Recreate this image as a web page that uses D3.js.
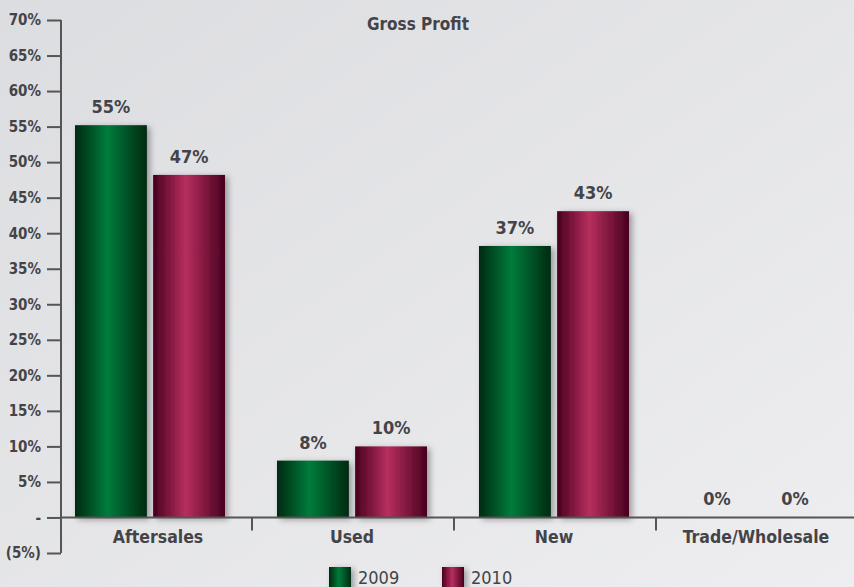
<!DOCTYPE html>
<html>
<head>
<meta charset="utf-8">
<script src="https://cdn.jsdelivr.net/npm/d3@7/dist/d3.min.js"></script>
<style>
  body { margin: 0; padding: 0; }
  svg { display: block; }
  text { font-family: "Liberation Sans Narrow", "DejaVu Sans Condensed", "Arial Narrow", sans-serif; fill: #444448; }
</style>
</head>
<body>
<div id="chart"></div>
<script>
var categories = ["Aftersales", "Used", "New", "Trade/Wholesale"];
var seriesNames = ["2009", "2010"];
var values2009 = [55.2, 8.0, 38.2, 0];
var values2010 = [48.2, 10.0, 43.1, 0];
var labels2009 = ["55%", "8%", "37%", "0%"];
var labels2010 = ["47%", "10%", "43%", "0%"];
var yTicks = [-5, 0, 5, 10, 15, 20, 25, 30, 35, 40, 45, 50, 55, 60, 65, 70];
var title = "Gross Profit";

var width = 854, height = 587;

var svg = d3.select("#chart").append("svg")
    .attr("width", width)
    .attr("height", height);

var defs = svg.append("defs");

// background
var bg = defs.append("linearGradient").attr("id", "bg")
    .attr("x1", "0%").attr("y1", "0%").attr("x2", "100%").attr("y2", "100%");
bg.append("stop").attr("offset", "0%").attr("stop-color", "#dcdde0");
bg.append("stop").attr("offset", "100%").attr("stop-color", "#eeeef0");

function barGradient(id, edge, mid) {
    var g = defs.append("linearGradient").attr("id", id)
        .attr("x1", "0%").attr("y1", "0%").attr("x2", "100%").attr("y2", "0%");
    g.append("stop").attr("offset", "0%").attr("stop-color", edge);
    g.append("stop").attr("offset", "45%").attr("stop-color", mid);
    g.append("stop").attr("offset", "100%").attr("stop-color", edge);
}
barGradient("g2009", "#002a10", "#007c3c");
barGradient("g2010", "#48001f", "#b72f5e");

var shadow = defs.append("filter").attr("id", "shadow")
    .attr("x", "-20%").attr("y", "-20%").attr("width", "150%").attr("height", "150%");
shadow.append("feDropShadow")
    .attr("dx", 3).attr("dy", 2).attr("stdDeviation", 3)
    .attr("flood-color", "#000").attr("flood-opacity", 0.35);

svg.append("rect").attr("width", width).attr("height", height).attr("fill", "url(#bg)");

var y = d3.scaleLinear().domain([-5, 70]).range([553, 20]);

var x = d3.scaleBand().domain(categories).range([49, 857]);

var xSub = d3.scaleBand().domain(seriesNames).range([26, 176]).paddingInner(0.08);

var fills = {"2009": "url(#g2009)", "2010": "url(#g2010)"};

// y axis
var yAxis = d3.axisLeft(y)
    .tickValues(yTicks)
    .tickSize(14)
    .tickPadding(6)
    .tickFormat(function (d) {
        if (d === 0) return "-";
        if (d < 0) return "(" + Math.abs(d) + "%)";
        return d + "%";
    });

var gy = svg.append("g")
    .attr("transform", "translate(61,0)")
    .call(yAxis);
gy.select(".domain").remove();
gy.append("line")
    .attr("x1", 0).attr("x2", 0)
    .attr("y1", y(70)).attr("y2", y(-5))
    .attr("stroke", "#555").attr("stroke-width", 2);
gy.selectAll(".tick line").attr("stroke", "#555").attr("stroke-width", 2);
gy.selectAll(".tick text")
    .style("font-size", "15px")
    .style("font-weight", "bold")
    .attr("fill", "#444448");

// bars
var rows = categories.map(function (c, i) {
    return {cat: c, items: [
        {s: "2009", v: values2009[i], label: labels2009[i]},
        {s: "2010", v: values2010[i], label: labels2010[i]}
    ]};
});

var groups = svg.selectAll(".group")
    .data(rows)
    .enter().append("g")
    .attr("class", "group")
    .attr("transform", function (d) { return "translate(" + x(d.cat) + ",0)"; });

groups.selectAll("rect")
    .data(function (d) { return d.items.filter(function (e) { return e.v > 0; }); })
    .enter().append("rect")
    .attr("x", function (d) { return xSub(d.s); })
    .attr("y", function (d) { return y(d.v); })
    .attr("width", xSub.bandwidth())
    .attr("height", function (d) { return y(0) - y(d.v); })
    .attr("fill", function (d) { return fills[d.s]; })
    .attr("filter", "url(#shadow)");

groups.selectAll(".vlabel")
    .data(function (d) { return d.items; })
    .enter().append("text")
    .attr("class", "vlabel")
    .attr("x", function (d) { return xSub(d.s) + xSub.bandwidth() / 2; })
    .attr("y", function (d) { return y(d.v) - 12; })
    .attr("text-anchor", "middle")
    .style("font-size", "18px")
    .style("font-weight", "bold")
    .text(function (d) { return d.label; });

// x axis
svg.append("line")
    .attr("x1", 61).attr("x2", width)
    .attr("y1", y(0)).attr("y2", y(0))
    .attr("stroke", "#555").attr("stroke-width", 2);

svg.selectAll(".xtick")
    .data(categories.slice(1))
    .enter().append("line")
    .attr("class", "xtick")
    .attr("x1", function (d) { return x(d) + 1; })
    .attr("x2", function (d) { return x(d) + 1; })
    .attr("y1", y(0)).attr("y2", y(0) + 13)
    .attr("stroke", "#555").attr("stroke-width", 2);

svg.selectAll(".xlabel")
    .data(categories)
    .enter().append("text")
    .attr("class", "xlabel")
    .attr("x", function (d) { return x(d) + x.bandwidth() / 2 + (d === "Aftersales" ? 8 : 0); })
    .attr("y", y(0) + 26)
    .attr("text-anchor", "middle")
    .style("font-size", "17.5px")
    .style("font-weight", "bold")
    .text(function (d) { return d; });

// title
svg.append("text")
    .attr("x", 418)
    .attr("y", 30)
    .attr("text-anchor", "middle")
    .style("font-size", "17px")
    .style("font-weight", "bold")
    .text(title);

// legend
var legend = svg.selectAll(".legend")
    .data(seriesNames)
    .enter().append("g")
    .attr("class", "legend")
    .attr("transform", function (d, i) { return "translate(" + (329 + i * 113) + ",567)"; });

legend.append("rect")
    .attr("width", 22).attr("height", 24)
    .attr("fill", function (d) { return fills[d]; })
    .attr("filter", "url(#shadow)");

legend.append("text")
    .attr("x", 29)
    .attr("y", 17)
    .style("font-size", "18px")
    .style("font-weight", "normal")
    .attr("fill", "#55555a")
    .text(function (d) { return d; });
</script>
</body>
</html>
